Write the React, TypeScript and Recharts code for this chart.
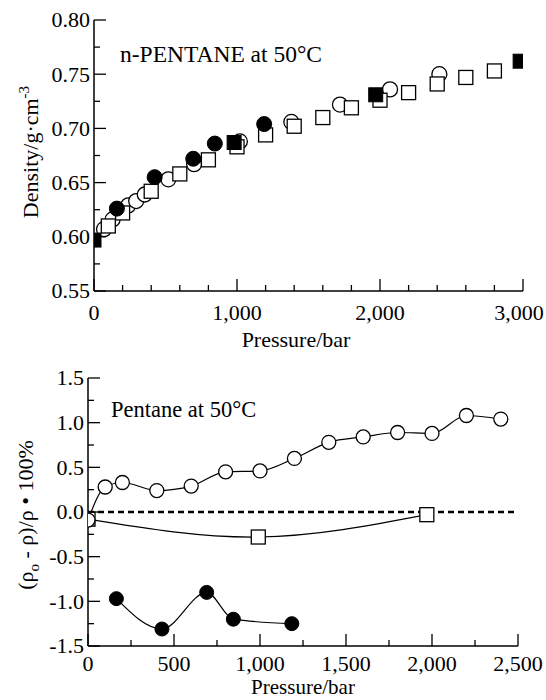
import React from 'react'
import { ScatterChart, Scatter, ComposedChart, Line, XAxis, YAxis, ReferenceLine } from 'recharts'

// Upper panel: density (g/cm3) vs pressure (bar), n-pentane at 50 C
const densOpenCircles: [number, number][] = [
  [70, 0.607], [130, 0.616], [240, 0.629], [295, 0.633], [355, 0.639],
  [520, 0.653], [700, 0.667], [1020, 0.688], [1380, 0.706], [1720, 0.722],
  [2070, 0.736], [2415, 0.75],
]
const densOpenSquares: [number, number][] = [
  [100, 0.61], [200, 0.622], [400, 0.642], [600, 0.658], [800, 0.671],
  [1000, 0.683], [1200, 0.694], [1400, 0.702], [1600, 0.71], [1800, 0.719],
  [2000, 0.726], [2200, 0.733], [2400, 0.741], [2600, 0.747], [2800, 0.753],
]
const densFilledCircles: [number, number][] = [
  [160, 0.626], [424, 0.655], [694, 0.672], [845, 0.686], [1190, 0.704],
]
const densFilledSquares: [number, number][] = [
  [0, 0.597], [980, 0.687], [1970, 0.731], [2980, 0.762],
]

// Lower panel: deviation (%) vs pressure (bar)
const devOpenCircles: [number, number][] = [
  [0, -0.09], [100, 0.28], [200, 0.33], [400, 0.24], [600, 0.29], [800, 0.45],
  [1000, 0.46], [1200, 0.6], [1400, 0.78], [1600, 0.84], [1800, 0.89],
  [2000, 0.88], [2200, 1.08], [2400, 1.04],
]
const devOpenSquares: [number, number][] = [[0, -0.08], [990, -0.28], [1970, -0.03]]
const devFilledCircles: [number, number][] = [
  [165, -0.97], [430, -1.31], [690, -0.9], [845, -1.2], [1185, -1.25],
]

// ticks
const topXMajor = [0, 1000, 2000, 3000]
const topXMinor = [200, 400, 600, 800, 1200, 1400, 1600, 1800, 2200, 2400, 2600, 2800]
const topYMajor = [0.55, 0.6, 0.65, 0.7, 0.75, 0.8]
const topYMinor = [0.575, 0.625, 0.675, 0.725, 0.775]
const botXMajor = [0, 500, 1000, 1500, 2000, 2500]
const botXMinor = [250, 750, 1250, 1750, 2250]
const botYMajor = [-1.5, -1, -0.5, 0, 0.5, 1, 1.5]
const botYMinor = [-1.25, -0.75, -0.25, 0.25, 0.75, 1.25]

const FONT = 'Liberation Serif, Times New Roman, Times, serif'
const INK = '#000'
const W = 546

const toPts = (rows: [number, number][]) => rows.map(([p, v]) => ({ p, v }))
const sortNum = (a: number[]) => [...a].sort((m, n) => m - n)
const commaFmt = (v: number) => v.toLocaleString('en-US')

function makeTick(side: 'bottom' | 'left' | 'top' | 'right', majors: number[], fmt?: (v: number) => string, gap = 29) {
  return (props: any) => {
    const { x, y, payload } = props
    const major = majors.includes(payload.value)
    const len = major ? 12 : 6
    let line
    if (side === 'bottom') line = <line x1={x} y1={y} x2={x} y2={y - len} />
    else if (side === 'top') line = <line x1={x} y1={y} x2={x} y2={y + len} />
    else if (side === 'left') line = <line x1={x} y1={y} x2={x + len} y2={y} />
    else line = <line x1={x} y1={y} x2={x - len} y2={y} />
    // keep the last label inside the page
    const tx = Math.min(x, W - 27)
    return (
      <g stroke={INK} strokeWidth={1.3}>
        {line}
        {major && fmt && side === 'bottom' && (
          <text x={tx} y={y + gap} textAnchor="middle" fill={INK} stroke="none" fontSize={22} fontFamily={FONT}>
            {fmt(payload.value)}
          </text>
        )}
        {major && fmt && side === 'left' && (
          <text x={x - 4} y={y} dy="0.34em" textAnchor="end" fill={INK} stroke="none" fontSize={22} fontFamily={FONT}>
            {fmt(payload.value)}
          </text>
        )}
      </g>
    )
  }
}

const openCircle = (r: number) => (p: any) => (
  <circle key={p.key ?? `oc-${p.index}`} cx={p.cx} cy={p.cy} r={r} fill="#fff" stroke={INK} strokeWidth={1.3} />
)
const filledCircle = (r: number) => (p: any) => (
  <circle key={p.key ?? `fc-${p.index}`} cx={p.cx} cy={p.cy} r={r} fill={INK} stroke={INK} strokeWidth={1} />
)
const openSquare = (s: number) => (p: any) => (
  <rect key={p.key ?? `os-${p.index}`} x={p.cx - s / 2} y={p.cy - s / 2} width={s} height={s} fill="#fff" stroke={INK} strokeWidth={1.3} />
)
const filledSquare = (s: number) => (p: any) => (
  <rect key={p.key ?? `fs-${p.index}`} x={p.cx - s / 2} y={p.cy - s / 2} width={s} height={s} fill={INK} stroke={INK} strokeWidth={1} />
)

function DensityChart() {
  const xTicks = sortNum([...topXMajor, ...topXMinor])
  const yTicks = sortNum([...topYMajor, ...topYMinor])
  const axisLine = { stroke: INK, strokeWidth: 1.5 }
  return (
    <ScatterChart width={W} height={360} margin={{ top: 20, right: 23, bottom: 0, left: 0 }}>
      <XAxis type="number" dataKey="p" domain={[0, 3000]} ticks={xTicks} interval={0} height={69}
        allowDataOverflow tickSize={0} tickMargin={0} tickLine={false} axisLine={axisLine}
        tick={makeTick('bottom', topXMajor, commaFmt)} />
      <XAxis xAxisId="top" orientation="top" type="number" domain={[0, 3000]} ticks={xTicks} interval={0} height={0}
        allowDataOverflow tickSize={0} tickMargin={0} tickLine={false} axisLine={axisLine}
        tick={makeTick('top', topXMajor)} />
      <YAxis type="number" dataKey="v" domain={[0.55, 0.8]} ticks={yTicks} interval={0} width={94}
        allowDataOverflow tickSize={0} tickMargin={0} tickLine={false} axisLine={axisLine}
        tick={makeTick('left', topYMajor, (v) => v.toFixed(2))} />
      <YAxis yAxisId="right" orientation="right" type="number" domain={[0.55, 0.8]} ticks={yTicks} interval={0} width={0}
        allowDataOverflow tickSize={0} tickMargin={0} tickLine={false} axisLine={axisLine}
        tick={makeTick('right', topYMajor)} />
      <Scatter data={toPts(densOpenCircles)} shape={openCircle(7.5)} isAnimationActive={false} />
      <Scatter data={toPts(densOpenSquares)} shape={openSquare(14)} isAnimationActive={false} />
      <Scatter data={toPts(densFilledCircles)} shape={filledCircle(7.5)} isAnimationActive={false} />
      <Scatter data={toPts(densFilledSquares)} shape={filledSquare(14)} isAnimationActive={false} />
    </ScatterChart>
  )
}

function DeviationChart() {
  const xTicks = sortNum([...botXMajor, ...botXMinor])
  const yTicks = sortNum([...botYMajor, ...botYMinor])
  const axisLine = { stroke: INK, strokeWidth: 1.5 }
  return (
    <ComposedChart width={W} height={340} margin={{ top: 18, right: 28, bottom: 0, left: 0 }}>
      <XAxis type="number" dataKey="p" domain={[0, 2500]} ticks={xTicks} interval={0} height={54}
        allowDataOverflow tickSize={0} tickMargin={0} tickLine={false} axisLine={axisLine}
        tick={makeTick('bottom', botXMajor, commaFmt, 25)} />
      <XAxis xAxisId="top" orientation="top" type="number" domain={[0, 2500]} ticks={xTicks} interval={0} height={0}
        allowDataOverflow tickSize={0} tickMargin={0} tickLine={false} axisLine={axisLine}
        tick={makeTick('top', botXMajor)} />
      <YAxis type="number" domain={[-1.5, 1.5]} ticks={yTicks} interval={0} width={88}
        allowDataOverflow tickSize={0} tickMargin={0} tickLine={false} axisLine={axisLine}
        tick={makeTick('left', botYMajor, (v) => v.toFixed(1))} />
      <YAxis yAxisId="right" orientation="right" type="number" domain={[-1.5, 1.5]} ticks={yTicks} interval={0} width={0}
        allowDataOverflow tickSize={0} tickMargin={0} tickLine={false} axisLine={axisLine}
        tick={makeTick('right', botYMajor)} />
      <ReferenceLine y={0} stroke={INK} strokeWidth={2.5} strokeDasharray="6 4" />
      <Line data={toPts(devOpenSquares)} dataKey="v" type="natural" stroke={INK} strokeWidth={1.2}
        dot={openSquare(14)} activeDot={false} isAnimationActive={false} />
      <Line data={toPts(devOpenCircles)} dataKey="v" type="monotone" stroke={INK} strokeWidth={1.2}
        dot={openCircle(7)} activeDot={false} isAnimationActive={false} />
      <Line data={toPts(devFilledCircles)} dataKey="v" type="monotone" stroke={INK} strokeWidth={1.2}
        dot={filledCircle(7)} activeDot={false} isAnimationActive={false} />
    </ComposedChart>
  )
}

export default function App() {
  const txt = { fill: INK, fontFamily: FONT }
  return (
    <div style={{ position: 'absolute', left: 0, top: 0, width: W, height: 700, background: '#fff' }}>
      <div style={{ position: 'absolute', left: 0, top: 0 }}>
        <DensityChart />
      </div>
      <div style={{ position: 'absolute', left: 0, top: 360 }}>
        <DeviationChart />
      </div>
      <svg width={W} height={700} style={{ position: 'absolute', left: 0, top: 0, pointerEvents: 'none' }}>
        <text x={120} y={62} fontSize={23.5} {...txt}>n-PENTANE at 50°C</text>
        <text x={296} y={347} fontSize={22} textAnchor="middle" {...txt}>Pressure/bar</text>
        <text transform="translate(38,152) rotate(-90)" fontSize={22} textAnchor="middle" {...txt}>
          Density/g·cm<tspan dy={-9} fontSize={15}>-3</tspan>
        </text>
        <text x={111} y={417} fontSize={22.5} {...txt}>Pentane at 50°C</text>
        <text x={303} y={694} fontSize={21} textAnchor="middle" {...txt}>Pressure/bar</text>
        <text transform="translate(33,515) rotate(-90)" fontSize={22} textAnchor="middle" {...txt}>
          (ρ<tspan dy={6} fontSize={15}>o</tspan><tspan dy={-6}> - ρ)/ρ • 100%</tspan>
        </text>
      </svg>
    </div>
  )
}
